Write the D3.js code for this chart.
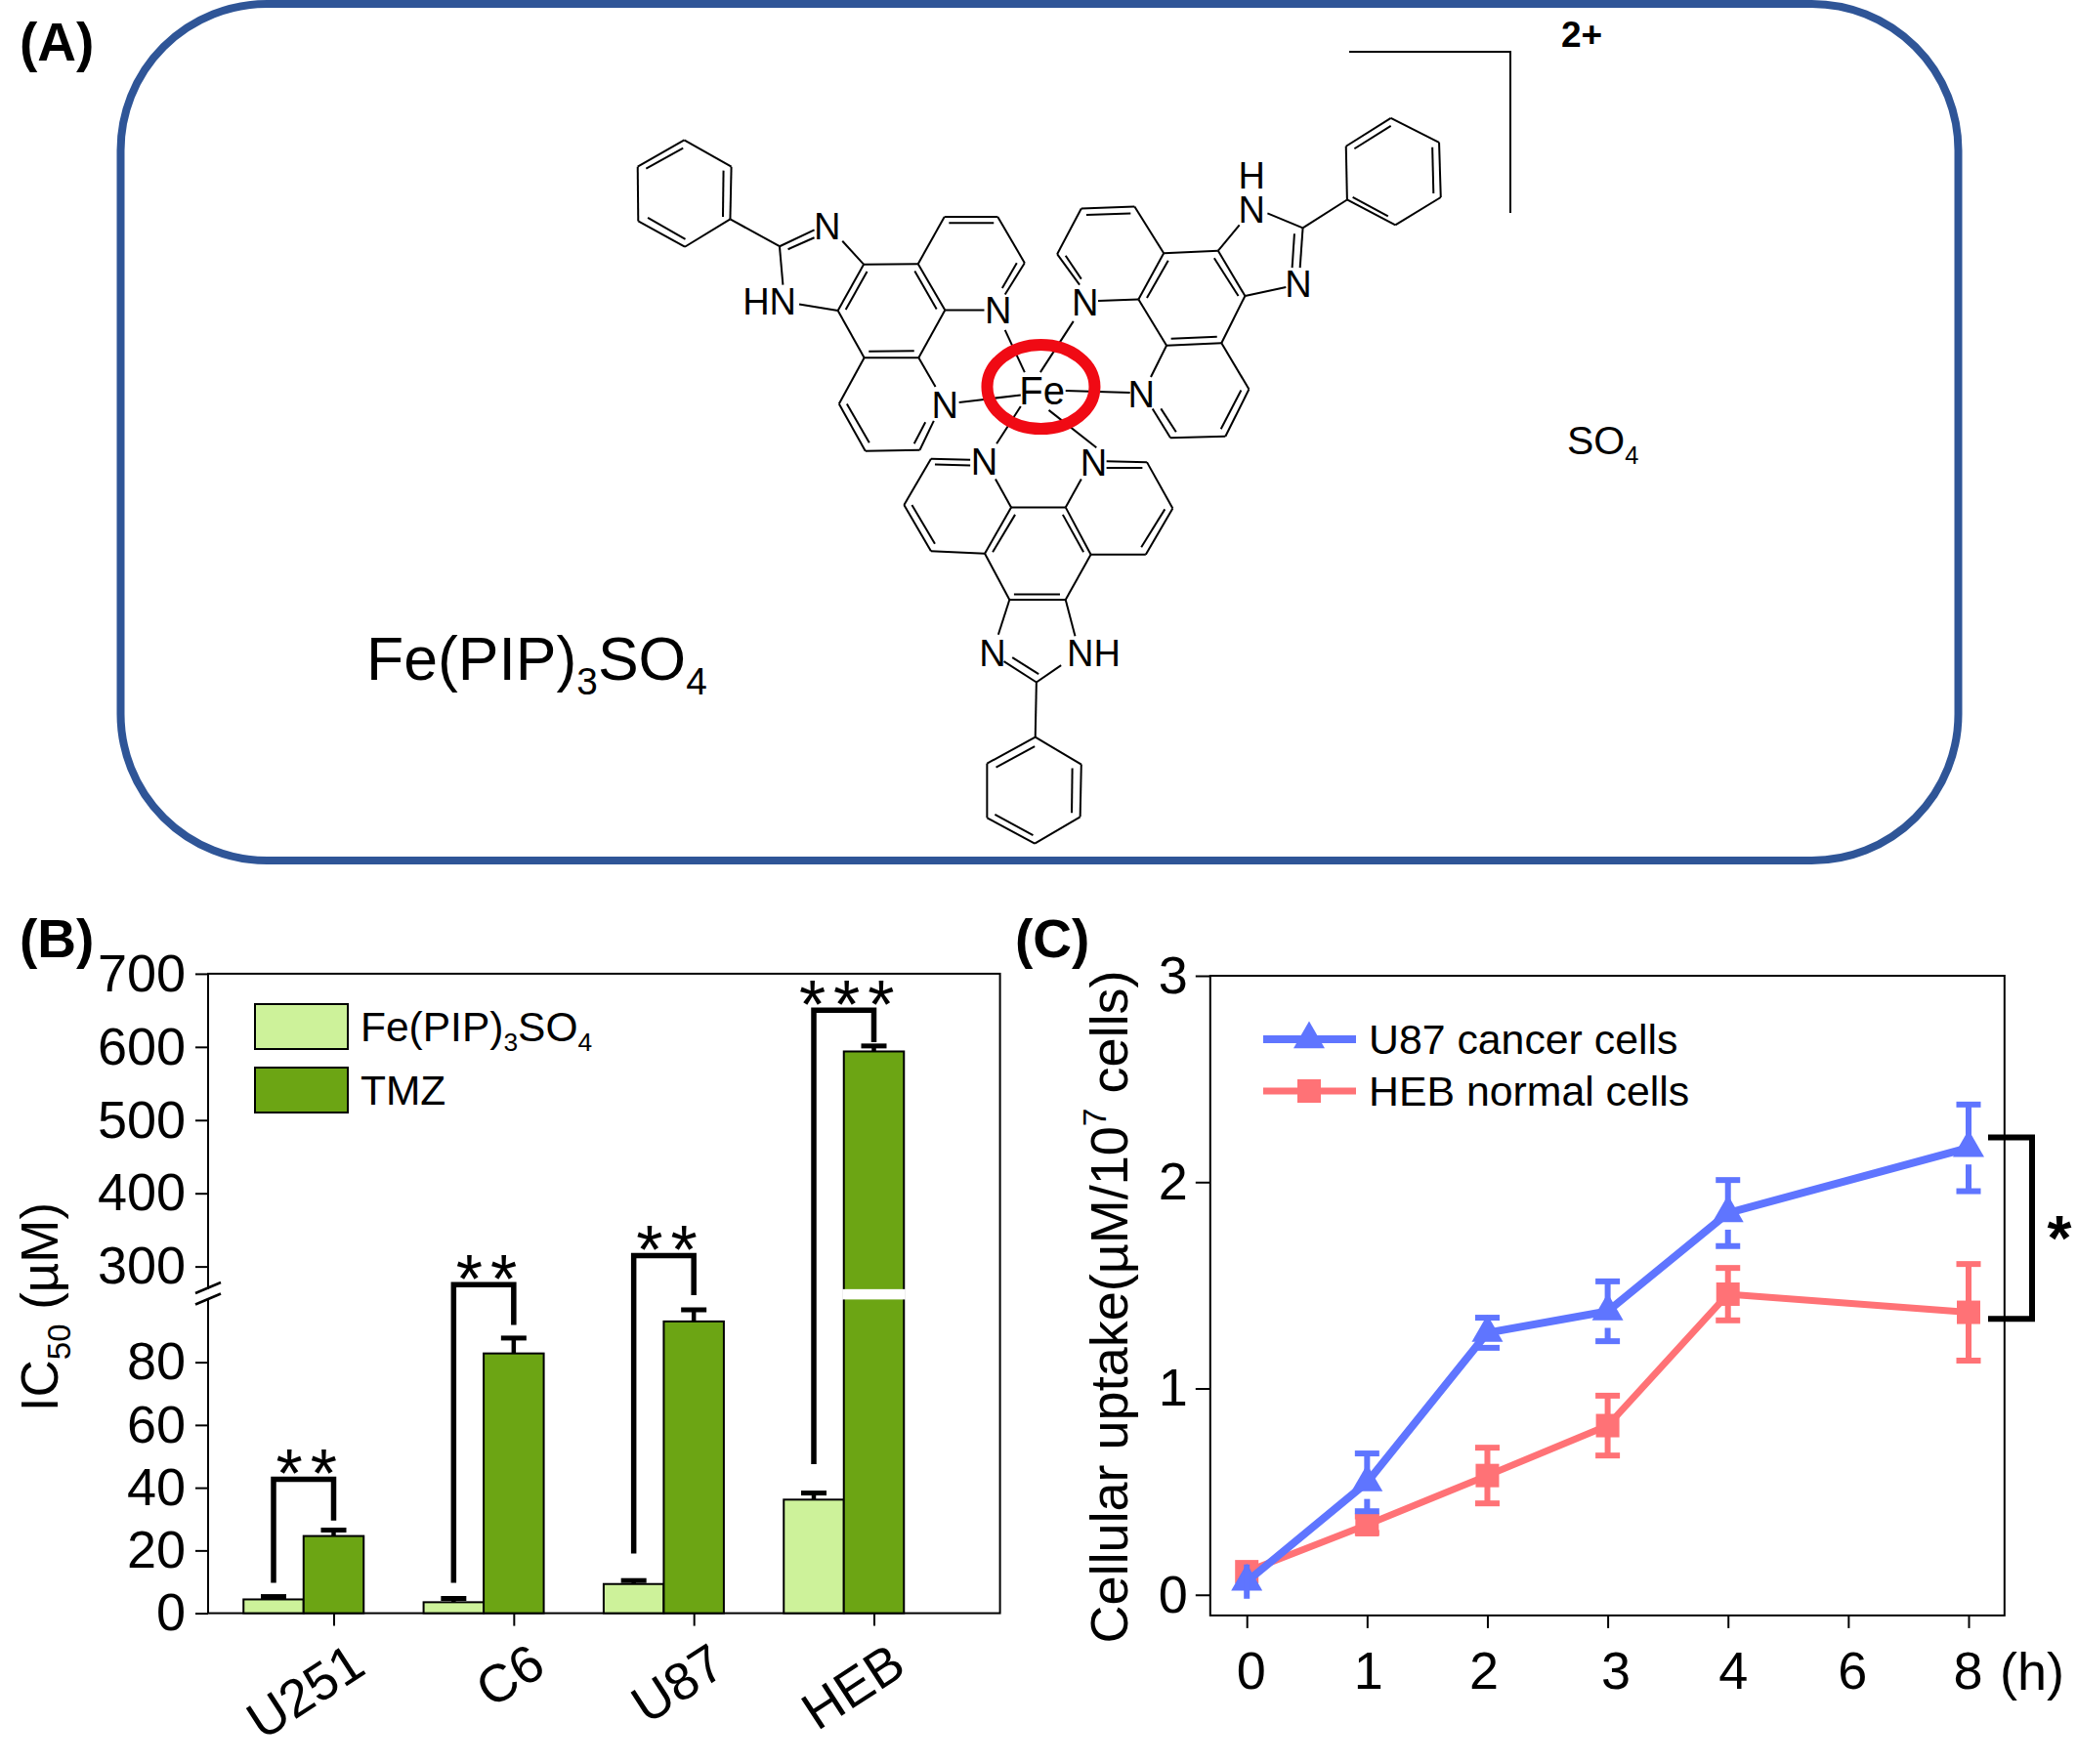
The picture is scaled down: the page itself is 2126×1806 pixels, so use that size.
<!DOCTYPE html>
<html><head><meta charset="utf-8">
<script src="https://cdn.jsdelivr.net/npm/d3@7/dist/d3.min.js"></script>
<style>html,body{margin:0;padding:0;background:#fff}svg{display:block}text{font-family:"Liberation Sans",Arial,sans-serif;fill:#000}</style>
</head><body><svg id="c" width="2126" height="1806"></svg>
<script>
// ---------- Panel B data ----------
const cellLines = ["U251","C6","U87","HEB"];
const feIC50 = [4.4,3.5,9.3,36.2];
const feErr  = [0.9,1.2,1.1,2.1];
const tmzIC50 = [24.6,82.8,93,593.8];
const tmzErr  = [1.9,4.9,3.7,7.5];
const bTicks = [0,20,40,60,80,300,400,500,600,700];
const bracketStart = [9.7,9.7,19,47.5];
const bracketTop = [42.7,275,315,650];
const bracketEnd = [29.5,91.9,209,606.6];
const bracketStars = ["**","**","**","***"];
// ---------- Panel C data ----------
const hours = ["0","1","2","3","4","6","8"];
const u87Hours = ["0","1","2","3","4","8"];
const u87Uptake = [0.064,0.545,1.27,1.374,1.85,2.166];
const u87Err = [0.083,0.14,0.073,0.145,0.16,0.21];
const hebUptake = [0.112,0.34,0.578,0.82,1.457,1.369];
const hebErr = [0,0.04,0.135,0.145,0.127,0.234];
const cTicks = [0,1,2,3];
// ---------- Panel A structure, in drawing units ----------
const molBonds = [
 // top-left ligand
 [140,87,224,142],[224,142,222,250],[222,250,141,307],[141,307,58,254],[58,254,57,142],[57,142,140,87],
 [72,146,138,104],[210,150,209,245],[142,291,75,247],
 [222,250,310,306],[310,306,372,272],[325,312,372,288],[422,295,460,343],[310,306,316,385],[345,425,414,438],
 [460,343,557,342],[557,342,605,437],[605,437,558,535],[558,535,461,535],[461,535,414,438],[414,438,460,343],
 [466,358,428,436],[551,357,590,435],[550,521,469,522],
 [557,342,604,245],[604,245,699,245],[612,258,692,258],[699,245,747,340],[747,340,712,405],[733,340,707,392],[605,437,675,437],
 [558,535,588,595],[585,665,560,725],[570,668,550,712],[560,725,463,727],[463,727,416,630],[470,710,430,630],[416,630,461,535],
 // bonds to iron
 [712,478,747,565],[630,627,740,612],[834,460,775,565],[820,603,935,607],[740,635,697,712],[790,643,875,720],
 // top-right ligand
 [1320,100,1400,42],[1400,42,1486,92],[1486,92,1489,205],[1489,205,1408,262],[1408,262,1322,210],[1322,210,1320,100],
 [1335,105,1400,58],[1474,102,1476,197],[1395,244,1332,205],
 [1322,210,1243,268],[1243,268,1180,238],[1243,268,1238,350],[1228,280,1224,350],[1213,390,1140,408],[1130,262,1092,315],
 [995,320,1092,315],[1092,315,1140,408],[1140,408,1098,505],[1098,505,1000,510],[1000,510,950,415],[950,415,995,320],
 [1085,330,1128,408],[1003,335,965,412],[1090,492,1008,496],
 [995,320,943,224],[943,224,848,228],[936,238,857,241],[848,228,805,322],[805,322,845,385],[820,325,848,373],[950,415,878,418],
 [1000,510,972,575],[975,640,1007,700],[990,640,1017,688],[1007,700,1105,697],[1105,697,1147,600],[1097,682,1133,602],[1147,600,1098,505],
 // bottom ligand
 [723,843,820,843],[820,843,865,940],[865,940,820,1033],[820,1033,720,1033],[720,1033,676,938],[676,938,723,843],
 [730,858,690,935],[815,858,852,935],[810,1022,728,1022],
 [723,843,695,785],[650,745,580,743],[650,757,587,755],[580,743,532,838],[532,838,580,933],[546,838,587,918],[580,933,676,938],
 [820,843,848,785],[893,748,965,750],[893,762,957,762],[965,750,1011,845],[1011,845,963,940],[997,847,955,925],[963,940,865,940],
 [720,1033,700,1105],[710,1160,768,1203],[725,1152,772,1186],[768,1203,812,1168],[820,1033,837,1108],[768,1203,766,1316],
 [766,1316,848,1372],[848,1372,846,1480],[846,1480,765,1535],[765,1535,680,1482],[680,1482,680,1370],[680,1370,766,1316],
 [696,1378,765,1335],[832,1380,831,1472],[762,1518,694,1475]
];
const molAtoms = [
 ["N",395,265],["HN",292,420],["N",700,438],["N",605,632],["Fe",778,603],
 ["N",855,422],["H",1152,160],["N",1152,230],["N",1235,383],["N",955,610],
 ["N",675,748],["N",870,750],["N",690,1143],["NH",870,1143]
];
const molBox = {x0:0,x1:1568,y0:0,y1:1568};

const svg = d3.select("#c");
const FONT = 54;

function rich(sel, parts, size){
  let prev = 0;
  parts.forEach(([t,k])=>{
    const s = sel.append("tspan").text(t);
    const cur = k==="sub" ? size*0.24 : k==="sup" ? -size*0.4 : 0;
    s.attr("dy", cur-prev);
    if(k) s.style("font-size",(size*0.62)+"px");
    prev = cur;
  });
}

// ================= Panel A =================
svg.append("rect").attr("x",123.5).attr("y",4).attr("width",1881).attr("height",877)
  .attr("rx",150).attr("ry",150).attr("fill","#fff").attr("stroke","#2F5597").attr("stroke-width",8);
const mx = d3.scaleLinear().domain([molBox.x0,molBox.x1]).range([620,620+1568/1.742]);
const my = d3.scaleLinear().domain([molBox.y0,molBox.y1]).range([100,100+1568/2.01]);
const gm = svg.append("g");
gm.selectAll("line").data(molBonds).join("line")
  .attr("x1",d=>mx(d[0])).attr("y1",d=>my(d[1])).attr("x2",d=>mx(d[2])).attr("y2",d=>my(d[3]))
  .attr("stroke","#000").attr("stroke-width",2);
gm.append("ellipse").attr("cx",mx(776)).attr("cy",my(595)).attr("rx",55).attr("ry",43)
  .attr("fill","none").attr("stroke","#F00A14").attr("stroke-width",12);
gm.selectAll("text").data(molAtoms).join("text")
  .attr("x",d=>mx(d[1])).attr("y",d=>my(d[2])+(d[0]==="Fe"?14:13.5)).attr("text-anchor","middle")
  .style("font-size",d=>d[0]==="Fe"?"40px":"38px").text(d=>d[0]);
svg.append("path").attr("d","M1381,53H1546V218").attr("fill","none").attr("stroke","#000").attr("stroke-width",2);
svg.append("text").attr("x",1598).attr("y",48).style("font-size","37px").style("font-weight","bold").text("2+");
rich(svg.append("text").attr("x",1604).attr("y",465).style("font-size","41px"),[["SO"],["4","sub"]],41);
rich(svg.append("text").attr("x",375).attr("y",696).style("font-size","62.5px"),[["Fe(PIP)"],["3","sub"],["SO"],["4","sub"]],62.5);

// panel letters
[["(A)",20,62],["(B)",20,980],["(C)",1039,980]].forEach(([t,x,y])=>{
  svg.append("text").attr("x",x).attr("y",y).style("font-size","55px").style("font-weight","bold").text(t);
});

// ================= Panel B =================
const bL=213,bR=1023.6,bT=996.9,bB=1651.6;
const yB = d3.scaleLinear().domain([0,100,264,700]).range([bB,1330.4,1323.6,bT]);
const xB = d3.scalePoint().domain(cellLines).range([341.5,894.5]);
const barW = 61.5;
const gB = svg.append("g");
gB.append("rect").attr("x",bL).attr("y",bT).attr("width",bR-bL).attr("height",bB-bT)
  .attr("fill","none").attr("stroke","#000").attr("stroke-width",2);

const feCol="#CDF29A", tmzCol="#6CA514";
function errBars(vals,errs,off){
  gB.selectAll(null).data(cellLines).join("g").each(function(c,i){
    const cx=xB(c)+off, top=yB(vals[i]+errs[i]);
    const g=d3.select(this);
    g.append("line").attr("x1",cx).attr("x2",cx).attr("y1",yB(vals[i])).attr("y2",top).attr("stroke","#000").attr("stroke-width",4.5);
    g.append("line").attr("x1",cx-13).attr("x2",cx+13).attr("y1",top).attr("y2",top).attr("stroke","#000").attr("stroke-width",5);
  });
}
errBars(feIC50,feErr,-barW);
errBars(tmzIC50,tmzErr,0);
gB.selectAll(null).data(cellLines).join("rect")
  .attr("x",c=>xB(c)-1.5*barW).attr("width",barW)
  .attr("y",(c,i)=>yB(feIC50[i])).attr("height",(c,i)=>bB-yB(feIC50[i]))
  .attr("fill",feCol).attr("stroke","#000").attr("stroke-width",2);
gB.selectAll(null).data(cellLines).join("rect")
  .attr("x",c=>xB(c)-0.5*barW).attr("width",barW)
  .attr("y",(c,i)=>yB(tmzIC50[i])).attr("height",(c,i)=>bB-yB(tmzIC50[i]))
  .attr("fill",tmzCol).attr("stroke","#000").attr("stroke-width",2);
// white break across the tall bar
gB.append("rect").attr("x",xB("HEB")-barW/2-1.5).attr("width",barW+3)
  .attr("y",yB(269)).attr("height",yB(100)-yB(269)).attr("fill","#fff");
// brackets
gB.selectAll(null).data(cellLines).join("path")
  .attr("d",(c,i)=>{
    const a=xB(c)-barW,b=xB(c);
    return `M${a},${yB(bracketStart[i])}V${yB(bracketTop[i])}H${b}V${yB(bracketEnd[i])}`;
  }).attr("fill","none").attr("stroke","#000").attr("stroke-width",5.5);
gB.selectAll(null).data(cellLines).join("text")
  .attr("x",c=>xB(c)-barW/2+7).attr("y",(c,i)=>yB(bracketTop[i])-21+40)
  .attr("text-anchor","middle").style("font-size","70px").style("letter-spacing","8px")
  .text((c,i)=>bracketStars[i]);
// axes
const axB = gB.append("g").attr("transform",`translate(${bL},0)`)
  .call(d3.axisLeft(yB).tickValues(bTicks).tickFormat(d3.format("d")).tickSize(13).tickPadding(10));
const axBx = gB.append("g").attr("transform",`translate(0,${bB})`)
  .call(d3.axisBottom(xB).tickSize(13).tickFormat(""));
[axB,axBx].forEach(a=>{a.select(".domain").remove();a.selectAll("line").attr("stroke","#000").attr("stroke-width",2);});
axB.selectAll("text").style("font-size",FONT+"px").attr("fill","#000");
gB.selectAll(null).data(cellLines).join("text")
  .attr("transform",c=>`translate(${xB(c)+14},${bB+28}) rotate(-33)`)
  .attr("text-anchor","end").attr("dy","0.72em").style("font-size",FONT+"px").text(c=>c);
// axis break
gB.append("rect").attr("x",bL-2).attr("width",4).attr("y",1320).attr("height",9).attr("fill","#fff");
[1318.5,1330].forEach(y=>gB.append("line").attr("x1",bL-13).attr("x2",bL+13).attr("y1",y+5.5).attr("y2",y-5.5).attr("stroke","#000").attr("stroke-width",2.5));
// y label
rich(gB.append("text").attr("transform",`translate(59,1338) rotate(-90)`).attr("text-anchor","middle").style("font-size","53px"),
  [["IC"],["50","sub"],[" (µM)"]],53);
// legend
const legB=[["fe",feCol,1049],["tmz",tmzCol,1114]];
gB.selectAll(null).data(legB).join("rect").attr("x",261).attr("width",95).attr("y",d=>d[2]-21).attr("height",46)
  .attr("fill",d=>d[1]).attr("stroke","#000").attr("stroke-width",2);
rich(gB.append("text").attr("x",369).attr("y",1066).style("font-size","42.5px"),[["Fe(PIP)"],["3","sub"],["SO"],["4","sub"]],42.5);
gB.append("text").attr("x",369).attr("y",1131).style("font-size","42.5px").text("TMZ");

// ================= Panel C =================
const cL=1238.8,cR=2051.8,cT=999,cB=1653.9;
const yC = d3.scaleLinear().domain([-0.1,3]).range([cB,cT]);
const xC = d3.scalePoint().domain(hours).range([1276.2,2015]);
const gC = svg.append("g");
gC.append("rect").attr("x",cL).attr("y",cT).attr("width",cR-cL).attr("height",cB-cT)
  .attr("fill","none").attr("stroke","#000").attr("stroke-width",2);
const axC = gC.append("g").attr("transform",`translate(${cL},0)`)
  .call(d3.axisLeft(yC).tickValues(cTicks).tickFormat(d3.format("d")).tickSize(15).tickPadding(8));
const axCx = gC.append("g").attr("transform",`translate(0,${cB})`)
  .call(d3.axisBottom(xC).tickSize(13).tickPadding(24));
[axC,axCx].forEach(a=>{a.select(".domain").remove();a.selectAll("line").attr("stroke","#000").attr("stroke-width",2);
  a.selectAll("text").style("font-size",FONT+"px").attr("fill","#000");});
const xLabelNudge = [4,1,-4,8,5,4,-1];
axCx.selectAll("text").attr("dx",(d,i)=>xLabelNudge[i]);
gC.append("text").attr("x",2047).attr("y",1730).style("font-size",FONT+"px").text("(h)");
const blue="#5F75FF", red="#FF7276";
const line=d3.line().x(d=>xC(d.h)).y(d=>yC(d.v));
function series(vals,errs,col,kind,gapBelow,lw){
  const pts=u87Hours.map((h,i)=>({h,v:vals[i],e:errs[i]}));
  const g=gC.append("g");
  const drawn=[];
  pts.forEach(p=>{
    const cx=xC(p.h),t=yC(p.v+p.e),b=yC(p.v-p.e),first=p.h===hours[0];
    if(!first){
      g.append("line").attr("x1",cx).attr("x2",cx).attr("y1",t).attr("y2",yC(p.v)).attr("stroke",col).attr("stroke-width",6);
      g.append("line").attr("x1",cx).attr("x2",cx).attr("y1",Math.min(yC(p.v)+gapBelow,b)).attr("y2",b).attr("stroke",col).attr("stroke-width",6);
      [t,b].forEach(y=>g.append("line").attr("x1",cx-12.5).attr("x2",cx+12.5).attr("y1",y).attr("y2",y).attr("stroke",col).attr("stroke-width",6));
    } else drawn.push({cx,t,b});
  });
  g.append("path").attr("d",line(pts)).attr("fill","none").attr("stroke",col).attr("stroke-width",lw);
  g.selectAll("path.m").data(pts).join("path").attr("class","m")
    .attr("transform",d=>`translate(${xC(d.h)},${yC(d.v)})`)
    .attr("d",d3.symbol().type(kind).size(kind===d3.symbolSquare?576:443)).attr("fill",col);
  drawn.forEach(d=>{ if(d.t!==d.b) g.append("line").attr("x1",d.cx).attr("x2",d.cx).attr("y1",d.t).attr("y2",d.b).attr("stroke",col).attr("stroke-width",6); });
}
series(hebUptake,hebErr,red,d3.symbolSquare,0,7);
series(u87Uptake,u87Err,blue,d3.symbolTriangle,17,8);
// significance bracket
gC.append("path").attr("d",`M2035,${yC(2.217)}H2080V${yC(1.337)}H2035`).attr("fill","none").attr("stroke","#000").attr("stroke-width",6);
gC.append("text").attr("x",2108).attr("y",1258).attr("text-anchor","middle").attr("dy","0.5em")
  .style("font-size","64px").style("font-weight","bold").text("*");
// y label
rich(gC.append("text").attr("transform",`translate(1154,1338) rotate(-90)`).attr("text-anchor","middle").style("font-size","54px"),
  [["Cellular uptake(µM/10"],["7","sup"],[" cells)"]],54);
// legend
const legY=[1064,1117];
[[blue,d3.symbolTriangle,legY[0],"U87 cancer cells",443,8],[red,d3.symbolSquare,legY[1],"HEB normal cells",576,7]].forEach(([col,k,y,t,s,w])=>{
  gC.append("line").attr("x1",1293).attr("x2",1388).attr("y1",y).attr("y2",y).attr("stroke",col).attr("stroke-width",w);
  gC.append("path").attr("transform",`translate(1340,${y})`).attr("d",d3.symbol().type(k).size(s)).attr("fill",col);
  gC.append("text").attr("x",1401).attr("y",y+15).style("font-size","42.8px").text(t);
});
</script></body></html>
